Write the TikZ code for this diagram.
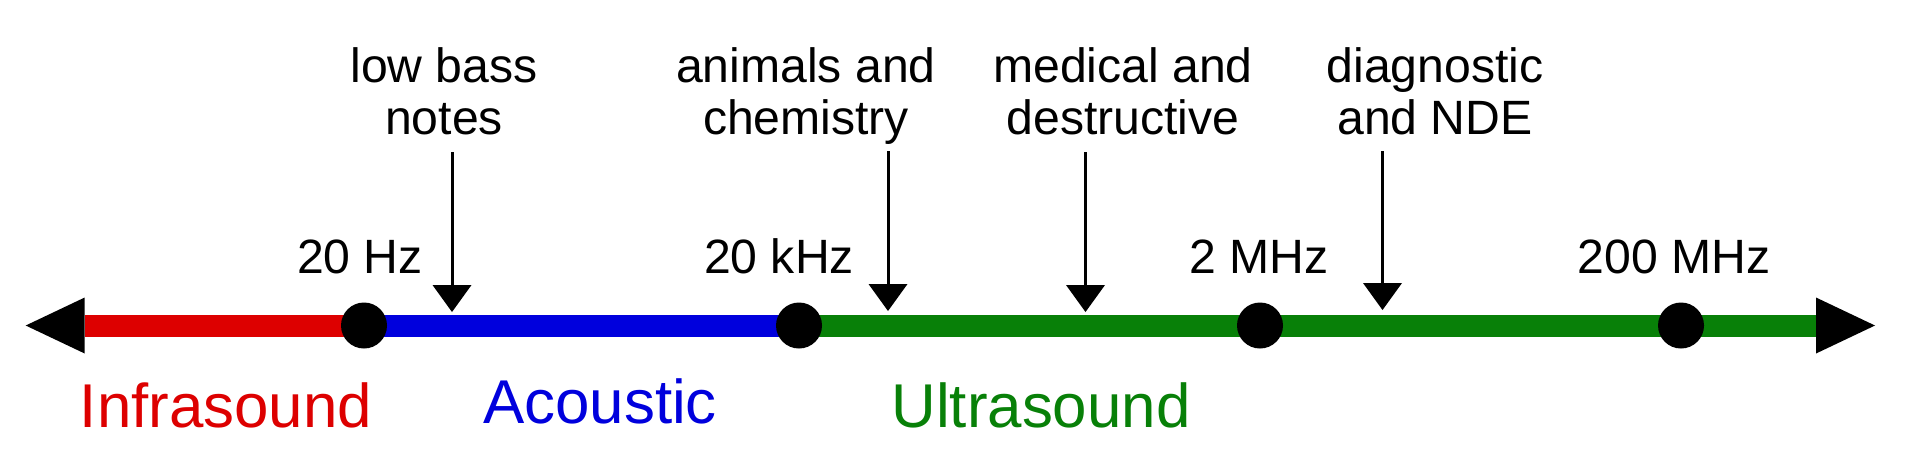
\documentclass[tikz,border=0pt]{standalone}
\usepackage{fontspec}
\setmainfont{Liberation Sans}
\usepackage{xcolor}
\usetikzlibrary{arrows.meta}

\definecolor{infrared}{RGB}{221,0,0}
\definecolor{acblue}{RGB}{0,0,221}
\definecolor{usgreen}{RGB}{8,128,8}

\begin{document}
\begin{tikzpicture}[
    axis/.style={line width=0.22cm},
    endtip/.tip={Triangle[width=0.56cm, length=0.59cm, line width=0pt, color=black]},
    dot/.style={circle, fill=black, minimum size=0.46cm, inner sep=0pt},
    freq/.style={anchor=base, inner sep=0pt, font=\fontsize{13.7}{14.8}\selectfont},
    usage/.style={anchor=north, align=center, inner sep=0pt, font=\fontsize{13.7}{14.8}\selectfont},
    band/.style={anchor=base, inner sep=0pt, font=\fontsize{17.6}{20}\selectfont},
    pointer/.style={-{Triangle[width=0.39cm, length=0.27cm, line width=0pt]}, line width=0.03cm}]

    \useasboundingbox (0,0) rectangle (19.2,4.55);

    % Axis points
    \coordinate (ltip) at (0.257,1.295);
    \coordinate (f20hz) at (3.64,1.295);
    \coordinate (f20khz) at (7.99,1.295);
    \coordinate (f2mhz) at (12.60,1.295);
    \coordinate (f200mhz) at (16.81,1.295);
    \coordinate (rtip) at (18.75,1.295);

    % Frequency axis
    \draw[axis, infrared, {endtip}-] (ltip) -- (f20hz);
    \draw[axis, acblue] (f20hz) -- (f20khz);
    \draw[axis, usgreen, -{endtip}] (f20khz) -- (rtip);

    % Boundary dots
    \node[dot] (d20hz) at (f20hz) {};
    \node[dot] (d20khz) at (f20khz) {};
    \node[dot] (d2mhz) at (f2mhz) {};
    \node[dot] (d200mhz) at (f200mhz) {};

    % Frequency labels
    \node[freq] (hz) at (3.60,1.82) {20 Hz};
    \node[freq] (khz) at (7.79,1.82) {20 kHz};
    \node[freq] (mhz) at (12.59,1.82) {2 MHz};
    \node[freq] (hmhz) at (16.74,1.82) {200 MHz};

    % Applications
    \node[usage] (bass) at (4.44,4.08) {low bass\\notes};
    \node[usage] (animals) at (8.06,4.08) {animals and\\chemistry};
    \node[usage] (medical) at (11.23,4.08) {medical and\\destructive};
    \node[usage] (nde) at (14.35,4.08) {diagnostic\\and NDE};

    % Pointer ends
    \coordinate (bassA) at (4.52,3.03);
    \coordinate (bassB) at (4.52,1.43);
    \coordinate (animalsA) at (8.88,3.04);
    \coordinate (animalsB) at (8.88,1.44);
    \coordinate (medicalA) at (10.855,3.03);
    \coordinate (medicalB) at (10.855,1.43);
    \coordinate (ndeA) at (13.825,3.04);
    \coordinate (ndeB) at (13.825,1.45);

    % Pointers
    \draw[pointer] (bassA) -- (bassB);
    \draw[pointer] (animalsA) -- (animalsB);
    \draw[pointer] (medicalA) -- (medicalB);
    \draw[pointer] (ndeA) -- (ndeB);

    % Bands
    \node[band, text=infrared] (infra) at (2.26,0.28) {Infrasound};
    \node[band, text=acblue] (acoustic) at (6.00,0.32) {Acoustic};
    \node[band, text=usgreen] (ultra) at (10.41,0.28) {Ultrasound};
\end{tikzpicture}
\end{document}
